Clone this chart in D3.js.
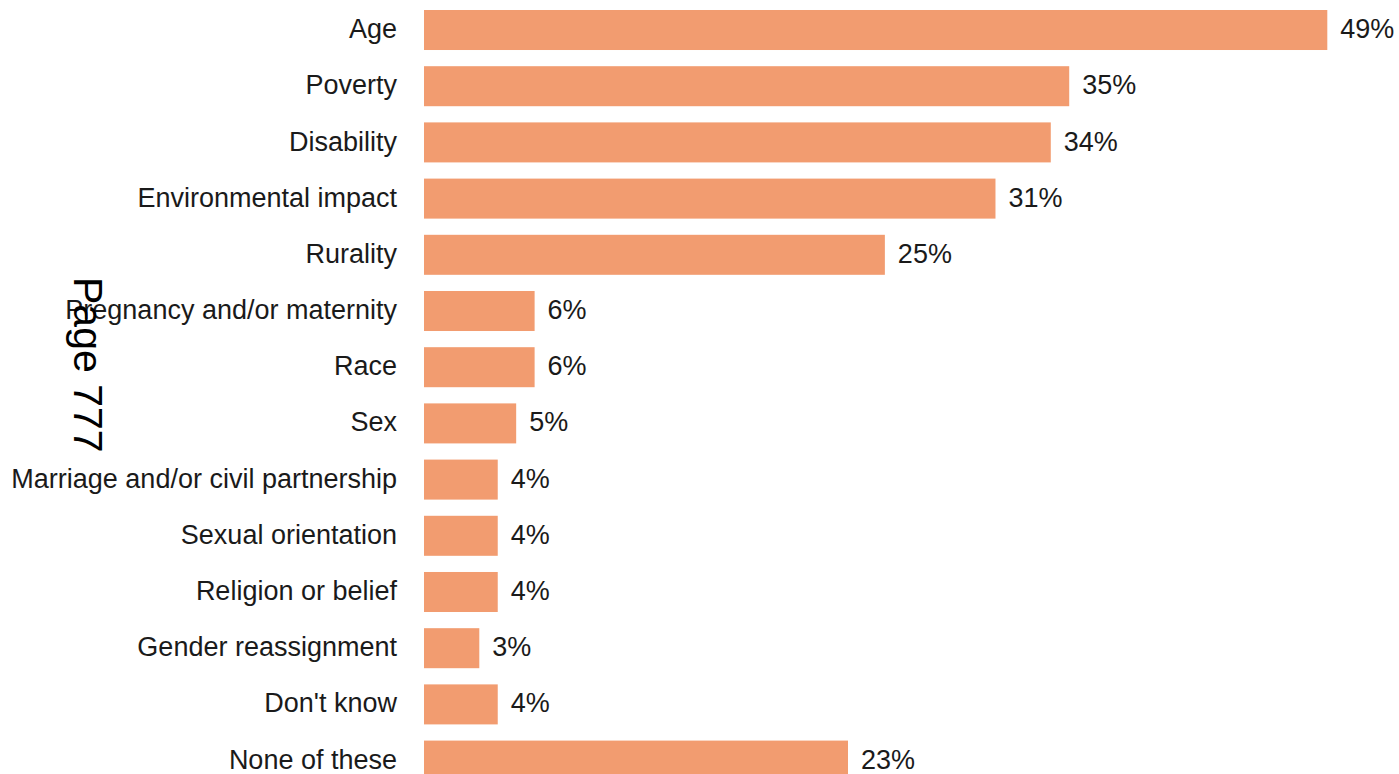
<!DOCTYPE html>
<html>
<head>
<meta charset="utf-8">
<script src="https://cdn.jsdelivr.net/npm/d3@7"></script>
<style>
  html, body { margin: 0; padding: 0; background: #ffffff; overflow: hidden; }
  svg { display: block; }
  text { font-family: "Liberation Sans", Arial, Helvetica, sans-serif; }
</style>
</head>
<body>
<svg id="chart" width="1399" height="774"></svg>
<script>
const categories = [
  "Age", "Poverty", "Disability", "Environmental impact", "Rurality",
  "Pregnancy and/or maternity", "Race", "Sex", "Marriage and/or civil partnership",
  "Sexual orientation", "Religion or belief", "Gender reassignment", "Don't know", "None of these"
];
const values = [49, 35, 34, 31, 25, 6, 6, 5, 4, 4, 4, 3, 4, 23];
const valueLabels = ["49%", "35%", "34%", "31%", "25%", "6%", "6%", "5%", "4%", "4%", "4%", "3%", "4%", "23%"];
const pageLabel = "Page 777";

const svg = d3.select("#chart");

const x = d3.scaleLinear().domain([0, 49]).range([424, 1327.3]);
const y = d3.scaleBand().domain(categories).range([10, 780.6]).paddingInner(0.288).paddingOuter(0);

const data = categories.map((c, i) => ({ c, v: values[i], l: valueLabels[i] }));

svg.append("g").selectAll("rect").data(data).join("rect")
  .attr("x", x(0))
  .attr("y", d => y(d.c))
  .attr("width", d => x(d.v) - x(0))
  .attr("height", y.bandwidth())
  .attr("fill", "#F29C70");

svg.append("g").selectAll("text").data(data).join("text")
  .attr("x", x(0) - 27)
  .attr("y", d => y(d.c) + y.bandwidth() / 2)
  .attr("dy", "0.3em")
  .attr("text-anchor", "end")
  .attr("font-size", 27)
  .attr("fill", "#1a1a1a")
  .text(d => d.c);

svg.append("g").selectAll("text").data(data).join("text")
  .attr("x", d => x(d.v) + 13)
  .attr("y", d => y(d.c) + y.bandwidth() / 2)
  .attr("dy", "0.3em")
  .attr("text-anchor", "start")
  .attr("font-size", 27)
  .attr("fill", "#1a1a1a")
  .text(d => d.l);

svg.append("text")
  .attr("transform", "translate(74,277) rotate(90)")
  .attr("font-size", 41)
  .attr("fill", "#000")
  .text(pageLabel);
</script>
</body>
</html>
